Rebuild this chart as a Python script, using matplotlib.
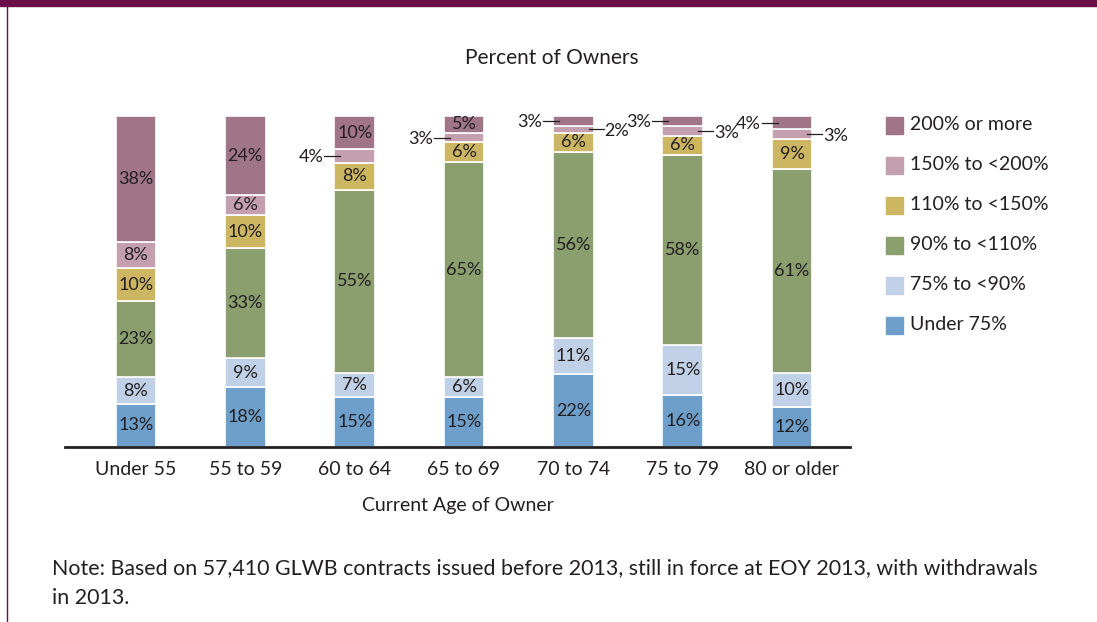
import matplotlib.pyplot as plt
import numpy as np

plt.rcParams['font.family'] = ['Lato', 'DejaVu Sans']

ages = ['Under 55', '55 to 59', '60 to 64', '65 to 69', '70 to 74', '75 to 79', '80 or older']
categories = ['Under 75%', '75% to <90%', '90% to <110%', '110% to <150%', '150% to <200%', '200% or more']
colors = ['#6E9FCB', '#C0D0E6', '#8A9E6E', '#CDB662', '#C4A0AE', '#A07588']

under75 = [13, 18, 15, 15, 22, 16, 12]
p75_90 = [8, 9, 7, 6, 11, 15, 10]
p90_110 = [23, 33, 55, 65, 56, 58, 61]
p110_150 = [10, 10, 8, 6, 6, 6, 9]
p150_200 = [8, 6, 4, 3, 2, 3, 3]
p200 = [38, 24, 10, 5, 3, 3, 4]
series = [under75, p75_90, p90_110, p110_150, p150_200, p200]

# small segments labelled outside the bar: (bar, series index, side)
outside = [(2, 4, 'left'), (3, 4, 'left'),
           (4, 5, 'left'), (4, 4, 'right'),
           (5, 5, 'left'), (5, 4, 'right'),
           (6, 5, 'left'), (6, 4, 'right')]

txt = '#231F20'
fig = plt.figure(figsize=(10.97, 6.22), dpi=100)
ax = fig.add_axes([65 / 1097, 1 - 447 / 622, 785 / 1097, 331 / 622])

data = np.array(series, dtype=float)
# rounded shares don't always add to 100, bars are drawn full height
heights = data / data.sum(axis=0) * 100
cum = np.cumsum(heights, axis=0)

x = np.arange(len(ages))
w = 0.37
px = 1 / 109.33  # one pixel in data units along x
bottom = np.zeros(len(ages))
for k in range(len(series)):
    ax.bar(x, heights[k], w, bottom=bottom, color=colors[k], edgecolor='white',
           linewidth=1.2)
    for i in range(len(ages)):
        if any(o[0] == i and o[1] == k for o in outside):
            continue
        ax.text(x[i], bottom[i] + heights[k][i] / 2, f'{series[k][i]}%', ha='center',
                va='center', fontsize=13, color=txt)
    bottom += heights[k]

for i, k, side in outside:
    mid = cum[k][i] - heights[k][i] / 2
    if side == 'left':
        x0, x1 = x[i] - w / 2 + 6 * px, x[i] - w / 2 - 10 * px
        ax.plot([x0, x1], [mid, mid], color=txt, lw=0.9, clip_on=False)
        ax.text(x1 - 1 * px, mid - 0.3, f'{series[k][i]}%', ha='right', va='center',
                fontsize=13, color=txt)
    else:
        x0, x1 = x[i] + w / 2 - 5 * px, x[i] + w / 2 + 10 * px
        ax.plot([x0, x1], [mid, mid], color=txt, lw=0.9, clip_on=False)
        ax.text(x1 + 1 * px, mid - 0.6, f'{series[k][i]}%', ha='left', va='center',
                fontsize=13, color=txt)

ax.set_xlim(-0.649, 6.53)
ax.set_ylim(0, 100)
ax.set_xticks(x)
ax.set_xticklabels(ages, fontsize=14, color=txt)
ax.tick_params(axis='x', length=0, pad=10)
ax.set_yticks([])
for s in ['top', 'right', 'left']:
    ax.spines[s].set_visible(False)
ax.spines['bottom'].set_linewidth(2)
ax.spines['bottom'].set_color('#231F20')
ax.set_xlabel('Current Age of Owner', fontsize=14, color=txt, labelpad=14)

fig.text(552 / 1097, 1 - 58 / 622, 'Percent of Owners', ha='center', va='center',
         fontsize=15, color=txt)

# legend, top entry first
for j, k in enumerate(range(len(categories) - 1, -1, -1)):
    yc = 1 - (125 + 40 * j) / 622
    fig.patches.append(plt.Rectangle((886 / 1097, yc - 8.5 / 622), 17 / 1097, 17 / 622,
                                     transform=fig.transFigure, color=colors[k]))
    fig.text(910 / 1097, yc, categories[k], ha='left', va='center', fontsize=14, color=txt)

fig.text(52 / 1097, 1 - 568 / 622, 'Note: Based on 57,410 GLWB contracts issued before 2013, '
         'still in force at EOY 2013, with withdrawals', ha='left', va='center',
         fontsize=15.4, color=txt)
fig.text(52 / 1097, 1 - 598 / 622, 'in 2013.', ha='left', va='center', fontsize=15.4, color=txt)

# page frame: top band and left rule
fig.patches.append(plt.Rectangle((0, 1 - 6 / 622), 1, 6 / 622, transform=fig.transFigure,
                                 color='#6B0D47', zorder=5))
fig.lines.append(plt.Line2D([6.5 / 1097, 6.5 / 1097], [0, 1], transform=fig.transFigure,
                            color='#6B0D47', lw=1))

fig.savefig('out.png', dpi=100)
